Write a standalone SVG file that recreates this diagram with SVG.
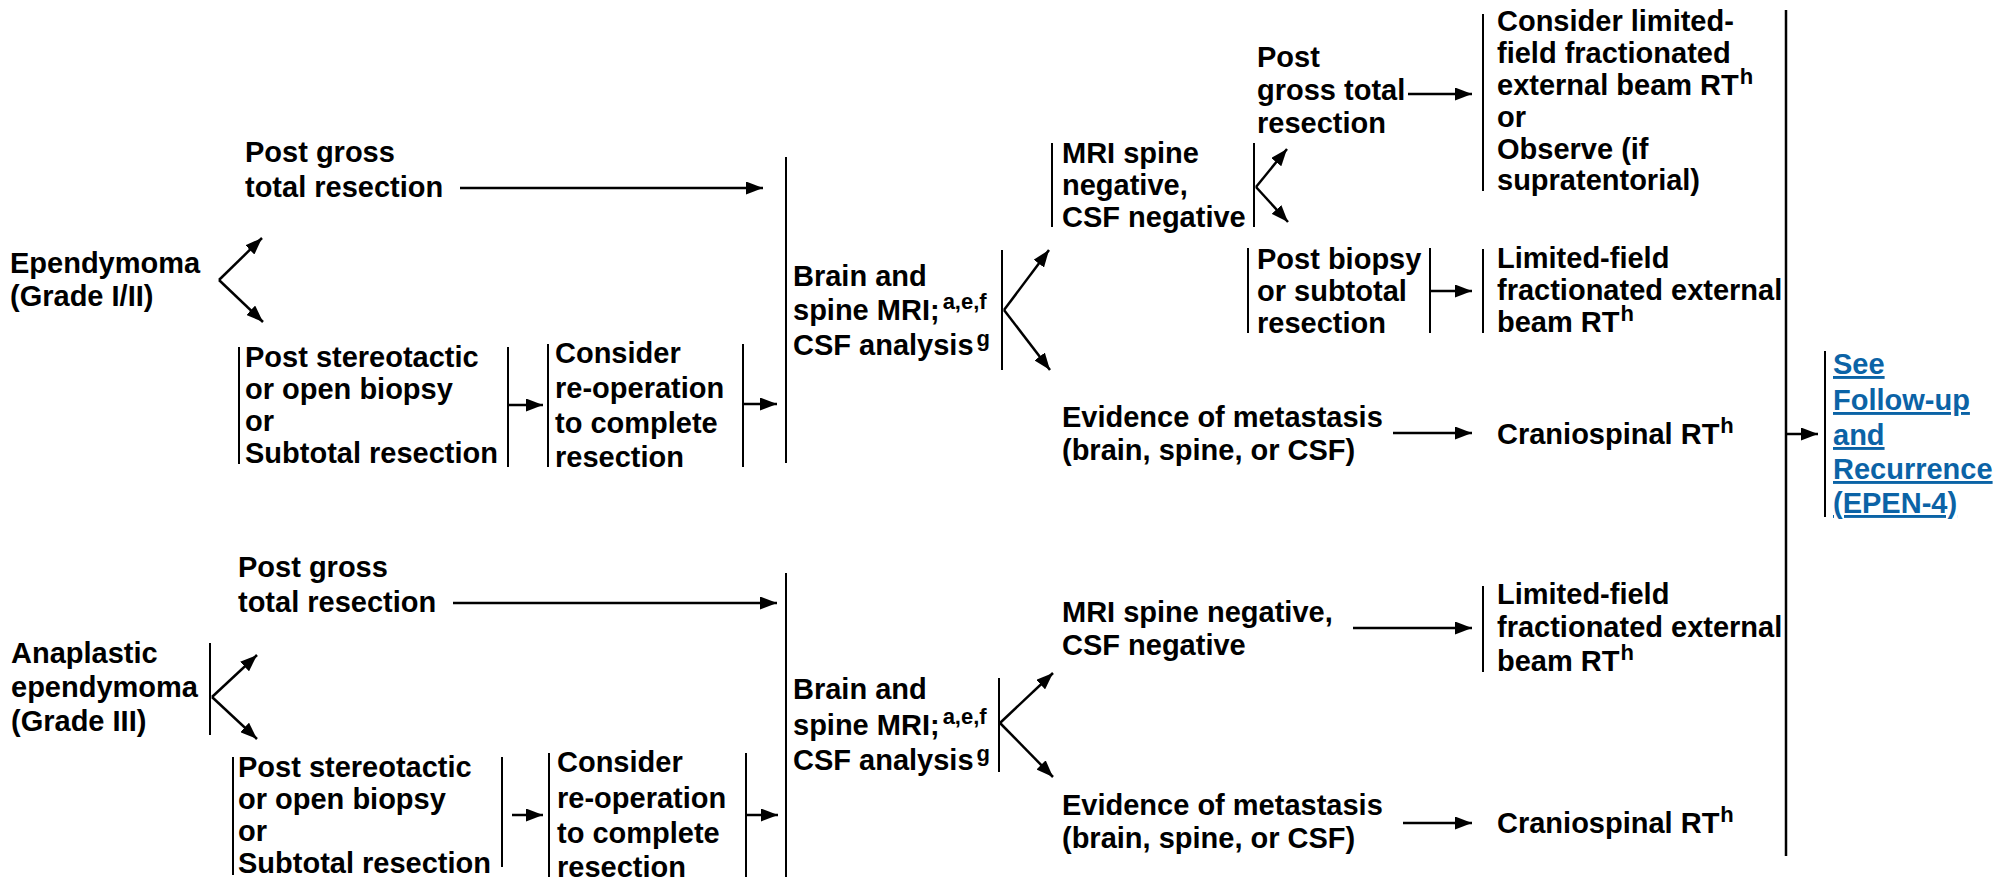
<svg xmlns="http://www.w3.org/2000/svg" width="2011" height="881" viewBox="0 0 2011 881">
<style>
.t{font-family:"Liberation Sans",Arial,Helvetica,sans-serif;font-size:29px;font-weight:bold;fill:#000}
.sup{font-size:22px}
.link{fill:#0b63a6;text-decoration:underline}
.bar{stroke:#000;stroke-width:2;fill:none}
.big{stroke:#000;stroke-width:2.5;fill:none}
.c{stroke:#000;stroke-width:2.5;fill:none;marker-end:url(#ah)}
</style>
<defs>
<marker id="ah" markerUnits="userSpaceOnUse" markerWidth="17" markerHeight="13" refX="17" refY="6.5" orient="auto">
<path d="M0,0 L17,6.5 L0,13 Z" fill="#000"/>
</marker>
</defs>
<rect width="2011" height="881" fill="#fff"/>

<g id="n_epend">
<text class="t" x="10" y="273">Ependymoma</text>
<text class="t" x="10" y="306">(Grade I/II)</text>
</g>
<g id="n_pgtr1">
<text class="t" x="245" y="162">Post gross</text>
<text class="t" x="245" y="197">total resection</text>
</g>
<g id="n_pst1">
<line class="bar" x1="239" y1="347" x2="239" y2="464"/>
<line class="bar" x1="508" y1="347" x2="508" y2="467"/>
<text class="t" x="245" y="367">Post stereotactic</text>
<text class="t" x="245" y="399">or open biopsy</text>
<text class="t" x="245" y="431">or</text>
<text class="t" x="245" y="463">Subtotal resection</text>
</g>
<g id="n_reop1">
<line class="bar" x1="548" y1="344" x2="548" y2="467"/>
<line class="bar" x1="743" y1="344" x2="743" y2="467"/>
<text class="t" x="555" y="363">Consider</text>
<text class="t" x="555" y="398">re-operation</text>
<text class="t" x="555" y="433">to complete</text>
<text class="t" x="555" y="467">resection</text>
</g>
<g id="n_brain1">
<line class="bar" x1="786" y1="157" x2="786" y2="463"/>
<line class="bar" x1="1002" y1="250" x2="1002" y2="370"/>
<text class="t" x="793" y="286">Brain and</text>
<text class="t" x="793" y="320">spine MRI;<tspan class="sup" dx="3" dy="-11">a,e,f</tspan></text>
<text class="t" x="793" y="355">CSF analysis<tspan class="sup" dx="3" dy="-9">g</tspan></text>
</g>
<g id="n_mri1">
<line class="bar" x1="1052" y1="143" x2="1052" y2="227"/>
<line class="bar" x1="1254" y1="143" x2="1254" y2="227"/>
<text class="t" x="1062" y="163">MRI spine</text>
<text class="t" x="1062" y="195">negative,</text>
<text class="t" x="1062" y="227">CSF negative</text>
</g>
<g id="n_postgtr">
<text class="t" x="1257" y="67">Post</text>
<text class="t" x="1257" y="100">gross total</text>
<text class="t" x="1257" y="133">resection</text>
</g>
<g id="n_postbx">
<line class="bar" x1="1248" y1="248" x2="1248" y2="333"/>
<line class="bar" x1="1430" y1="248" x2="1430" y2="333"/>
<text class="t" x="1257" y="269">Post biopsy</text>
<text class="t" x="1257" y="301">or subtotal</text>
<text class="t" x="1257" y="333">resection</text>
</g>
<g id="n_evid1">
<text class="t" x="1062" y="427">Evidence of metastasis</text>
<text class="t" x="1062" y="460">(brain, spine, or CSF)</text>
</g>
<g id="n_rt1">
<line class="bar" x1="1483" y1="14" x2="1483" y2="191"/>
<text class="t" x="1497" y="31">Consider limited-</text>
<text class="t" x="1497" y="63">field fractionated</text>
<text class="t" x="1497" y="95">external beam RT<tspan class="sup" dx="1" dy="-11">h</tspan></text>
<text class="t" x="1497" y="127">or</text>
<text class="t" x="1497" y="159">Observe (if</text>
<text class="t" x="1497" y="190">supratentorial)</text>
</g>
<g id="n_rt2">
<line class="bar" x1="1483" y1="249" x2="1483" y2="333"/>
<text class="t" x="1497" y="268">Limited-field</text>
<text class="t" x="1497" y="300">fractionated external</text>
<text class="t" x="1497" y="332">beam RT<tspan class="sup" dx="1" dy="-11">h</tspan></text>
</g>
<g id="n_csi1">
<text class="t" x="1497" y="444">Craniospinal RT<tspan class="sup" dx="1" dy="-11">h</tspan></text>
</g>
<g id="n_follow">
<line class="bar" x1="1825" y1="351" x2="1825" y2="517"/>
<text class="t link" x="1833" y="374">See</text>
<text class="t link" x="1833" y="410">Follow-up</text>
<text class="t link" x="1833" y="445">and</text>
<text class="t link" x="1833" y="479">Recurrence</text>
<text class="t link" x="1833" y="513">(EPEN-4)</text>
</g>

<g id="n_anap">
<line class="bar" x1="210" y1="643" x2="210" y2="735"/>
<text class="t" x="11" y="663">Anaplastic</text>
<text class="t" x="11" y="697">ependymoma</text>
<text class="t" x="11" y="731">(Grade III)</text>
</g>
<g id="n_pgtr2">
<text class="t" x="238" y="577">Post gross</text>
<text class="t" x="238" y="612">total resection</text>
</g>
<g id="n_pst2">
<line class="bar" x1="233" y1="757" x2="233" y2="875"/>
<line class="bar" x1="502" y1="757" x2="502" y2="867"/>
<text class="t" x="238" y="777">Post stereotactic</text>
<text class="t" x="238" y="809">or open biopsy</text>
<text class="t" x="238" y="841">or</text>
<text class="t" x="238" y="873">Subtotal resection</text>
</g>
<g id="n_reop2">
<line class="bar" x1="549" y1="753" x2="549" y2="877"/>
<line class="bar" x1="746" y1="753" x2="746" y2="877"/>
<text class="t" x="557" y="772">Consider</text>
<text class="t" x="557" y="808">re-operation</text>
<text class="t" x="557" y="843">to complete</text>
<text class="t" x="557" y="877">resection</text>
</g>
<g id="n_brain2">
<line class="bar" x1="786" y1="573" x2="786" y2="877"/>
<line class="bar" x1="999" y1="678" x2="999" y2="772"/>
<text class="t" x="793" y="699">Brain and</text>
<text class="t" x="793" y="735">spine MRI;<tspan class="sup" dx="3" dy="-11">a,e,f</tspan></text>
<text class="t" x="793" y="770">CSF analysis<tspan class="sup" dx="3" dy="-9">g</tspan></text>
</g>
<g id="n_mri2">
<text class="t" x="1062" y="622">MRI spine negative,</text>
<text class="t" x="1062" y="655">CSF negative</text>
</g>
<g id="n_evid2">
<text class="t" x="1062" y="815">Evidence of metastasis</text>
<text class="t" x="1062" y="848">(brain, spine, or CSF)</text>
</g>
<g id="n_rt3">
<line class="bar" x1="1483" y1="586" x2="1483" y2="672"/>
<text class="t" x="1497" y="604">Limited-field</text>
<text class="t" x="1497" y="637">fractionated external</text>
<text class="t" x="1497" y="671">beam RT<tspan class="sup" dx="1" dy="-11">h</tspan></text>
</g>
<g id="n_csi2">
<text class="t" x="1497" y="833">Craniospinal RT<tspan class="sup" dx="1" dy="-11">h</tspan></text>
</g>

<g id="connectors">
<line class="big" x1="1786" y1="10" x2="1786" y2="856"/>
<line class="c" x1="219" y1="280" x2="262" y2="238"/>
<line class="c" x1="219" y1="280" x2="263" y2="322"/>
<line class="c" x1="460" y1="188" x2="763" y2="188"/>
<line class="c" x1="508" y1="405" x2="543" y2="405"/>
<line class="c" x1="743" y1="404" x2="777" y2="404"/>
<line class="c" x1="1004" y1="310" x2="1049" y2="250"/>
<line class="c" x1="1004" y1="310" x2="1050" y2="370"/>
<line class="c" x1="1256" y1="187" x2="1287" y2="149"/>
<line class="c" x1="1256" y1="187" x2="1288" y2="222"/>
<line class="c" x1="1408" y1="94" x2="1472" y2="94"/>
<line class="c" x1="1430" y1="291" x2="1472" y2="291"/>
<line class="c" x1="1393" y1="433" x2="1472" y2="433"/>
<line class="c" x1="1786" y1="434" x2="1818" y2="434"/>
<line class="c" x1="212" y1="697" x2="257" y2="655"/>
<line class="c" x1="212" y1="697" x2="257" y2="739"/>
<line class="c" x1="453" y1="603" x2="777" y2="603"/>
<line class="c" x1="512" y1="815" x2="543" y2="815"/>
<line class="c" x1="746" y1="815" x2="778" y2="815"/>
<line class="c" x1="1000" y1="723" x2="1053" y2="673"/>
<line class="c" x1="1000" y1="723" x2="1053" y2="777"/>
<line class="c" x1="1353" y1="628" x2="1472" y2="628"/>
<line class="c" x1="1403" y1="823" x2="1472" y2="823"/>
</g>
</svg>
